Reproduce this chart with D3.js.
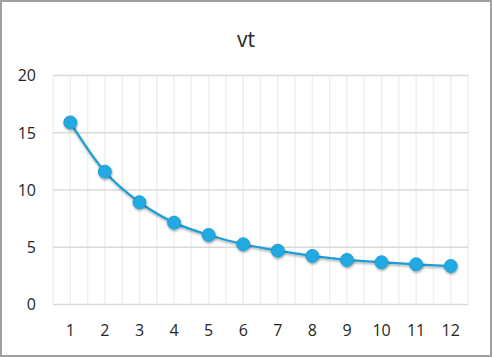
<!DOCTYPE html>
<html>
<head>
<meta charset="utf-8">
<script src="https://cdn.jsdelivr.net/npm/d3@7"></script>
<style>
  body { margin: 0; background: #fff; }
  svg text { font-family: "Open Sans", "Liberation Sans", sans-serif; }
</style>
</head>
<body>
<div id="chart"></div>
<script>
const categories = ["1", "2", "3", "4", "5", "6", "7", "8", "9", "10", "11", "12"];
const values = [15.9, 11.6, 8.93, 7.15, 6.07, 5.26, 4.7, 4.24, 3.89, 3.69, 3.51, 3.36];
const yTicks = [0, 5, 10, 15, 20];

const width = 492, height = 357;
const margin = { left: 53, right: 24, top: 75.5, bottom: 52.5 };
const innerWidth = width - margin.left - margin.right;
const innerHeight = height - margin.top - margin.bottom;

const svg = d3.select("#chart").append("svg")
  .attr("width", width)
  .attr("height", height);

// outer border
svg.append("rect")
  .attr("x", 1).attr("y", 1)
  .attr("width", width - 2).attr("height", height - 2)
  .attr("fill", "#fff")
  .attr("stroke", "#a0a0a0")
  .attr("stroke-width", 2);

const defs = svg.append("defs");
const shadow = defs.append("filter").attr("id", "shadow")
  .attr("x", "-50%").attr("y", "-50%").attr("width", "200%").attr("height", "200%");
shadow.append("feDropShadow")
  .attr("dx", 0.5).attr("dy", 1.5).attr("stdDeviation", 1.2)
  .attr("flood-color", "#000").attr("flood-opacity", 0.35);

svg.append("text")
  .text("vt")
  .attr("x", width / 2)
  .attr("y", 47)
  .attr("text-anchor", "middle")
  .attr("font-size", 21)
  .attr("fill", "#262626");

const g = svg.append("g")
  .attr("transform", `translate(${margin.left},${margin.top})`);

const x = d3.scaleBand().domain(categories).range([0, innerWidth]);
const y = d3.scaleLinear().domain([0, 20]).range([innerHeight, 0]);

// vertical gridlines at category centers and edges
const vLines = [];
categories.forEach((c) => {
  vLines.push(x(c));
  vLines.push(x(c) + x.bandwidth() / 2);
});
vLines.push(innerWidth);
g.selectAll(".vgrid").data(vLines).join("line")
  .attr("x1", (d) => d).attr("x2", (d) => d)
  .attr("y1", 0).attr("y2", innerHeight)
  .attr("stroke", "#efefef")
  .attr("stroke-width", 1.5);

// horizontal gridlines
g.selectAll(".hgrid").data(yTicks).join("line")
  .attr("x1", 0).attr("x2", innerWidth)
  .attr("y1", (d) => y(d)).attr("y2", (d) => y(d))
  .attr("stroke", "#d9d9d9")
  .attr("stroke-width", 1.5);

// y labels
g.selectAll(".ylab").data(yTicks).join("text")
  .text((d) => d)
  .attr("x", -17)
  .attr("y", (d) => y(d))
  .attr("dy", "0.36em")
  .attr("text-anchor", "end")
  .attr("font-size", 16)
  .attr("fill", "#262626");

// x labels
g.selectAll(".xlab").data(categories).join("text")
  .text((d) => d)
  .attr("x", (d) => x(d) + x.bandwidth() / 2)
  .attr("y", innerHeight + 31)
  .attr("text-anchor", "middle")
  .attr("font-size", 16)
  .attr("fill", "#262626");

const points = categories.map((c, i) => ({ c, v: values[i] }));

const line = d3.line()
  .curve(d3.curveCatmullRom.alpha(0.5))
  .x((d) => x(d.c) + x.bandwidth() / 2)
  .y((d) => y(d.v));

g.append("path")
  .datum(points)
  .attr("fill", "none")
  .attr("stroke", "#1e9fd6")
  .attr("stroke-width", 2.25)
  .attr("filter", "url(#shadow)")
  .attr("d", line);

g.selectAll(".dot").data(points).join("circle")
  .attr("cx", (d) => x(d.c) + x.bandwidth() / 2)
  .attr("cy", (d) => y(d.v))
  .attr("r", 6.5)
  .attr("fill", "#23a9e1")
  .attr("stroke", "#1e9fd6")
  .attr("stroke-width", 1)
  .attr("filter", "url(#shadow)");
</script>
</body>
</html>
